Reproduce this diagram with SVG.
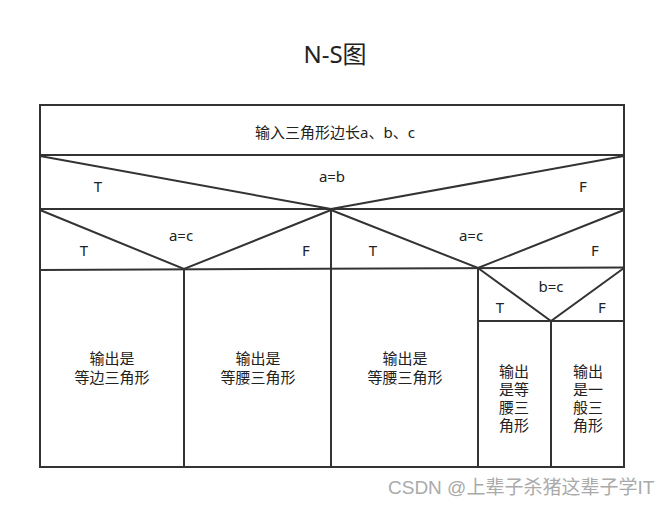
<svg xmlns="http://www.w3.org/2000/svg" width="669" height="505" viewBox="0 0 669 505">
<style>
.ln{stroke:#333;stroke-width:2;fill:none}
text{font-family:"Noto Sans","Noto Sans CJK SC",sans-serif;fill:#222;text-anchor:middle}
.t{font-size:15px}
.c{font-size:15px;font-family:"Liberation Sans","Noto Sans CJK SC",sans-serif}
.title{font-size:24px}
.wm{font-size:19px;fill:#aaa;font-family:"Liberation Sans","Noto Sans CJK SC",sans-serif;text-anchor:start}
</style>
<rect width="669" height="505" fill="#fff"/>
<text class="title" x="335" y="63">N-S图</text>
<g id="connectors">
<rect class="ln" x="40" y="105" width="584" height="362"/>
<line class="ln" x1="40" y1="155" x2="624" y2="155"/>
<line class="ln" x1="40" y1="209" x2="624" y2="209"/>
<polyline class="ln" points="40,156 331,209 624,156"/>
<line class="ln" x1="331" y1="209" x2="331" y2="467"/>
<polyline class="ln" points="40,210 184,269 331,210"/>
<polyline class="ln" points="331,210 478,268 624,210"/>
<line class="ln" x1="40" y1="270" x2="624" y2="267.5"/>
<line class="ln" x1="184" y1="269" x2="184" y2="467"/>
<line class="ln" x1="478" y1="268" x2="478" y2="467"/>
<polyline class="ln" points="478,268 551,321 624,268"/>
<line class="ln" x1="478" y1="321" x2="624" y2="321"/>
<line class="ln" x1="551" y1="321" x2="551" y2="467"/>
</g>
<g id="input"><text class="t" x="335" y="138">输入三角形边长a、b、c</text></g>
<g id="cond-ab">
<text class="t" x="332" y="182">a=b</text>
<text class="t" x="98" y="192">T</text>
<text class="t" x="583" y="192">F</text>
</g>
<g id="cond-ac-left">
<text class="t" x="181" y="241">a=c</text>
<text class="t" x="84" y="256">T</text>
<text class="t" x="306" y="256">F</text>
</g>
<g id="cond-ac-right">
<text class="t" x="471" y="241">a=c</text>
<text class="t" x="373" y="256">T</text>
<text class="t" x="595" y="256">F</text>
</g>
<g id="cond-bc">
<text class="t" x="551" y="292">b=c</text>
<text class="t" x="500" y="313">T</text>
<text class="t" x="602" y="313">F</text>
</g>
<g id="out1"><text class="c" x="112" y="364">输出是<tspan x="112" dy="19">等边三角形</tspan></text></g>
<g id="out2"><text class="c" x="258" y="364">输出是<tspan x="258" dy="19">等腰三角形</tspan></text></g>
<g id="out3"><text class="c" x="405" y="364">输出是<tspan x="405" dy="19">等腰三角形</tspan></text></g>
<g id="out4"><text class="c" x="514" y="377">输出<tspan x="514" dy="18">是等</tspan><tspan x="514" dy="18">腰三</tspan><tspan x="514" dy="18">角形</tspan></text></g>
<g id="out5"><text class="c" x="588" y="377">输出<tspan x="588" dy="18">是一</tspan><tspan x="588" dy="18">般三</tspan><tspan x="588" dy="18">角形</tspan></text></g>
<text class="wm" x="388" y="494">CSDN @上辈子杀猪这辈子学IT</text>
</svg>
